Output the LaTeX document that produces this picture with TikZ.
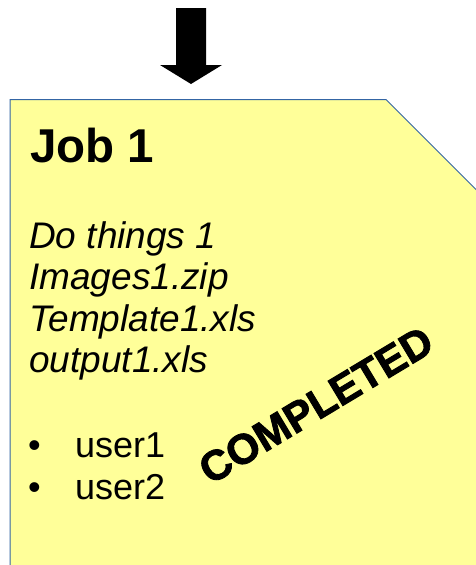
\documentclass[tikz,border=0pt]{standalone}
\usepackage{fontspec}
\setmainfont{Liberation Sans}
\newfontfamily\stampFont[FakeBold=2]{Liberation Sans Bold}
\usetikzlibrary{positioning}
\definecolor{noteColor}{RGB}{255,255,153}
\definecolor{noteBorder}{RGB}{52,101,164}

\begin{document}
\begin{tikzpicture}[x=1pt,y=1pt]

          \tikzstyle{jobText} = [anchor=base west,inner sep=0pt];
          \tikzstyle{titleText} = [jobText,font=\fontsize{47.5}{50}\selectfont\bfseries];
          \tikzstyle{fileText} = [jobText,font=\fontsize{37}{40}\selectfont\itshape];
          \tikzstyle{userText} = [jobText,font=\fontsize{36}{40}\selectfont];

          \useasboundingbox (0,0) rectangle (476,-565);
          \begin{scope}
            \clip (0,0) rectangle (476,-565);
            \draw[noteBorder,fill=noteColor,line width=1pt] (10,-575) -- (10,-99.5) -- (386,-99.5) -- (490,-203.5) -- (490,-575) -- cycle;
          \end{scope}

          % arrow into the job
          \fill (176,-8) -- (206,-8) -- (206,-65) -- (222,-65) -- (191,-84) -- (160,-65) -- (176,-65) -- cycle;

          \node[titleText] (title) at (30,-162) {Job 1};
          \node[fileText] (task) at (29,-248) {Do things 1};
          \node[fileText] (images) at (29,-289.5) {Images1.zip};
          \node[fileText] (template) at (29,-331) {Template1.xls};
          \node[fileText] (output) at (29,-372.5) {output1.xls};
          \node[userText] (bulletA) at (28,-457) {\textbullet};
          \node[userText] (userA) at (75,-457) {user1};
          \node[userText] (bulletB) at (28,-499) {\textbullet};
          \node[userText] (userB) at (75,-499) {user2};

          \node[rotate=31,inner sep=0pt,font=\stampFont\fontsize{42}{42}\selectfont] (stamp) at (316,-405) {COMPLETED};
        \end{tikzpicture}
\end{document}
